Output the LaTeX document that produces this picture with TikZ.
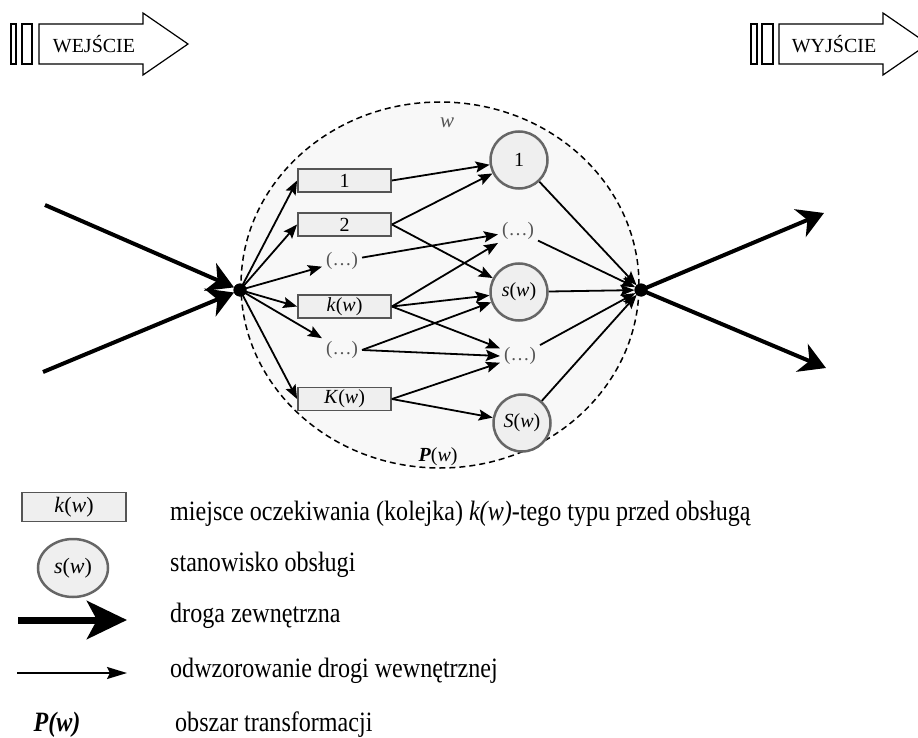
\documentclass[tikz,border=0pt]{standalone}
\usepackage{fontspec}
\setmainfont{Liberation Serif}
\newfontfamily\legfont[FakeStretch=0.86]{Liberation Serif}
\usetikzlibrary{arrows.meta,shapes.geometric}
\definecolor{boxfill}{HTML}{EFEFEF}
\definecolor{boxline}{HTML}{555555}
\definecolor{areafill}{HTML}{F8F8F8}
\definecolor{labgray}{HTML}{555555}
\begin{document}
\begin{tikzpicture}[x=1pt,y=-1pt,
  thinarr/.style={line width=1.8pt,-{Stealth[length=14pt,width=11pt,inset=2.5pt]}},
  thickarr/.style={line width=4pt,-{Stealth[length=26pt,width=30pt,inset=8pt]}},
  queue/.style={draw=boxline,fill=boxfill,line width=1.8pt,minimum width=93pt,minimum height=23pt,inner sep=0pt,font=\fontsize{20}{22}\selectfont},
  server/.style={circle,draw=boxline!90,fill=boxfill,line width=2.5pt,minimum size=57pt,inner sep=0pt,font=\fontsize{20}{22}\selectfont},
  dots/.style={text=labgray,inner sep=4pt,font=\fontsize{19}{21}\selectfont},
  hub/.style={circle,fill=black,minimum size=13pt,inner sep=0pt,outer sep=0pt},
  portarrow/.style={draw=black,line width=1.2pt,fill=white},
  legtext/.style={anchor=west,inner sep=0pt,font=\legfont\fontsize{28}{32}\selectfont},
  toplab/.style={inner sep=0pt,font=\fontsize{20}{22}\selectfont}]
\useasboundingbox (0,0) rectangle (918,738);
\clip (0,0) rectangle (918,738);
% top port arrows
\draw[portarrow] (11,24) rectangle (16,64);
\draw[portarrow] (22,24) rectangle (32,64);
\draw[portarrow] (39,24) -- (143,24) -- (143,13) -- (188,44) -- (143,75) -- (143,64) -- (39,64) -- cycle;
\node[toplab] (wej) at (94,44) {WEJŚCIE};
\draw[portarrow] (751,24) rectangle (757,64);
\draw[portarrow] (762,24) rectangle (773,64);
\draw[portarrow] (779,24) -- (883,24) -- (883,13) -- (928,44) -- (883,75) -- (883,64) -- (779,64) -- cycle;
\node[toplab] (wyj) at (834,44) {WYJŚCIE};
% area
\node[ellipse,draw=black,fill=areafill,line width=1.5pt,dash pattern=on 6pt off 4pt,minimum width=398pt,minimum height=366pt,inner sep=0pt] (area) at (440,285) {};
\node[text=labgray,font=\fontsize{21}{22}\selectfont\itshape] (wlab) at (447,123) {w};
\node[font=\fontsize{20}{22}\selectfont] (plab) at (438,457) {\textbf{\textit{P}}(\textit{w})};
% queues
\node[queue] (q1) at (344.5,180.5) {1};
\node[queue] (q2) at (344.5,224.5) {2};
\node[queue] (qk) at (344.5,306.5) {\textit{k}(\textit{w})};
\node[queue] (qK) at (344.5,399) {\textit{K}(\textit{w})};
\node[dots] (l1) at (342,261) {(…)};
\node[dots] (l2) at (342,350) {(…)};
% servers
\node[server] (s1) at (519,160) {1};
\node[dots] (r1) at (518,231) {(…)};
\node[server] (sw) at (519,292) {\textit{s}(\textit{w})};
\node[dots] (r2) at (520,356) {(…)};
\node[server] (sS) at (522,423) {\textit{S}(\textit{w})};
% hubs
\node[hub] (din) at (240,290) {};
\node[hub] (dout) at (641,290) {};
% internal arrows
\draw[thinarr] (din.center) -- (q1.west);
\draw[thinarr] (din.center) -- (q2.west);
\draw[thinarr] (din.center) -- (l1);
\draw[thinarr] (din.center) -- (qk.west);
\draw[thinarr] (din.center) -- (l2);
\draw[thinarr] (din.center) -- (qK.west);
\draw[thinarr] (q1.east) -- (s1);
\draw[thinarr] (q2.east) -- (s1);
\draw[thinarr] (q2.east) -- (sw);
\draw[thinarr] (l1) -- (r1);
\draw[thinarr] (qk.east) -- (r1);
\draw[thinarr] (qk.east) -- (sw);
\draw[thinarr] (qk.east) -- (r2);
\draw[thinarr] (l2.east) -- (sw);
\draw[thinarr] (l2.east) -- (r2.west);
\draw[thinarr] (qK.east) -- (r2);
\draw[thinarr] (qK.east) -- (sS);
\draw[thinarr] (s1) -- (dout);
\draw[thinarr] (r1) -- (dout);
\draw[thinarr] (sw) -- (dout);
\draw[thinarr] (r2) -- (dout);
\draw[thinarr] (sS) -- (dout);
% external arrows
\coordinate (inA) at (45,205);
\coordinate (inB) at (43,372);
\coordinate (outA) at (824,213);
\coordinate (outB) at (826,368);
\draw[thickarr] (inA) -- (din);
\draw[thickarr] (inB) -- (din);
\draw[thickarr] (dout.center) -- (outA);
\draw[thickarr] (dout.center) -- (outB);
\node[hub] at (din) {};
\node[hub] at (dout) {};
% legend
\node[queue,minimum width=104pt,minimum height=29pt,font=\fontsize{22}{24}\selectfont] (lk) at (74,507) {\textit{k}(\textit{w})};
\node[ellipse,draw=boxline!90,fill=boxfill,line width=2.5pt,minimum width=70pt,minimum height=58pt,inner sep=0pt,font=\fontsize{22}{24}\selectfont] (ls) at (73,568) {\textit{s}(\textit{w})};
\coordinate (la1) at (18,620);
\coordinate (la2) at (127,620);
\draw[line width=7pt,-{Stealth[length=40pt,width=38pt,inset=10pt]}] (la1) -- (la2);
\coordinate (lb1) at (17,673);
\coordinate (lb2) at (127,673);
\draw[line width=2pt,-{Stealth[length=20pt,width=12pt,inset=3pt]}] (lb1) -- (lb2);
\node[font=\legfont\fontsize{28}{32}\selectfont\bfseries\itshape] (lp) at (57,725) {P(w)};
\node[legtext] (t1) at (170,514) {miejsce oczekiwania (kolejka) \textit{k(w)}-tego typu przed obsługą};
\node[legtext] (t2) at (170,565) {stanowisko obsługi};
\node[legtext] (t3) at (170,616) {droga zewnętrzna};
\node[legtext] (t4) at (170,671) {odwzorowanie drogi wewnętrznej};
\node[legtext] (t5) at (175,725) {obszar transformacji};
\end{tikzpicture}
\end{document}
